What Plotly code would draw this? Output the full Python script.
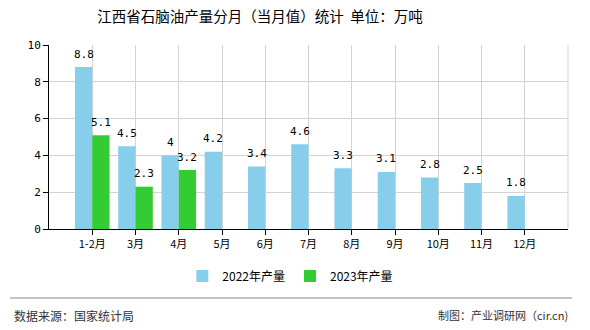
import plotly.graph_objects as go

months = ["1-2月", "3月", "4月", "5月", "6月", "7月", "8月", "9月", "10月", "11月", "12月"]
prod_2022 = [8.8, 4.5, 4, 4.2, 3.4, 4.6, 3.3, 3.1, 2.8, 2.5, 1.8]
prod_2023 = [5.1, 2.3, 3.2]
months_2023 = months[:len(prod_2023)]
y_ticks = [0, 2, 4, 6, 8, 10]

title_text = "江西省石脑油产量分月（当月值）统计  单位：万吨"
source_text = "数据来源：国家统计局"
credit_text = "制图：产业调研网（cir.cn)"

cjk = "Noto Sans CJK SC"
mono = "DejaVu Sans Mono"

fig = go.Figure()
fig.add_trace(go.Bar(
    x=months, y=prod_2022, name="2022年产量",
    marker=dict(color="#87CEEB", line=dict(width=0)),
    textposition="none",
))
fig.add_trace(go.Bar(
    x=months_2023, y=prod_2023, name="2023年产量",
    marker=dict(color="#33CC33", line=dict(width=0)),
    textposition="none",
))

# value labels above bars, positioned on the data scales
for xs, ys, shift in ((months, prod_2022, -0.2), (months_2023, prod_2023, 0.2)):
    for m, v in zip(xs, ys):
        fig.add_annotation(x=m, y=v, xref="x", yref="y", text=f"{v:g}", showarrow=False,
                           xshift=shift * 43.25, yshift=13, yanchor="middle",
                           font=dict(family=mono, size=11, color="#000000"))

fig.update_layout(
    width=590, height=330,
    margin=dict(l=49, r=22, t=45, b=101),
    paper_bgcolor="white", plot_bgcolor="white",
    barmode="group", bargap=0.2, bargroupgap=0,
    font=dict(family=cjk, size=12, color="#000000"),
    title=dict(text=title_text, x=260 / 590, xanchor="center", y=1 - 17 / 330, yanchor="middle",
               font=dict(family=cjk, size=14.5, color="#000000")),
    showlegend=True,
    legend=dict(orientation="h", x=0.465, xanchor="center", y=-0.255, yanchor="middle",
                font=dict(family=cjk, size=12, color="#000000"), itemwidth=30,
                bgcolor="rgba(0,0,0,0)"),
)
fig.update_xaxes(
    type="category", range=[-1, 11],
    showline=True, linecolor="#000000", linewidth=1,
    showgrid=True, gridcolor="#d3d3d3", gridwidth=1,
    ticks="outside", ticklen=5, tickcolor="#000000",
    tickfont=dict(family=cjk, size=11, color="#000000"),
    fixedrange=True,
)
fig.update_yaxes(
    range=[0, 10], tickvals=y_ticks,
    showline=True, linecolor="#000000", linewidth=1,
    showgrid=True, gridcolor="#d3d3d3", gridwidth=1,
    ticks="outside", ticklen=5, tickcolor="#000000",
    tickfont=dict(family=mono, size=11, color="#000000"),
    zeroline=False, fixedrange=True,
)
# right border grid line
fig.add_shape(type="line", xref="paper", yref="paper", x0=1, x1=1, y0=0, y1=1,
              line=dict(color="#d3d3d3", width=1))
# footer separator
fig.add_shape(type="line", xref="paper", yref="paper", x0=(10 - 49) / 519, x1=(572 - 49) / 519,
              y0=(229 - 298) / 184, y1=(229 - 298) / 184, line=dict(color="#888888", width=1))
fig.add_annotation(text=source_text, xref="paper", yref="paper", x=(12 - 49) / 519,
                   y=(229 - 315) / 184, xanchor="left", yanchor="middle", showarrow=False,
                   font=dict(family=cjk, size=12, color="#333333"))
fig.add_annotation(text=credit_text, xref="paper", yref="paper", x=(570 - 49) / 519,
                   y=(229 - 315) / 184, xanchor="right", yanchor="middle", showarrow=False,
                   font=dict(family=cjk, size=11, color="#333333"))

fig.write_html("out.html")
